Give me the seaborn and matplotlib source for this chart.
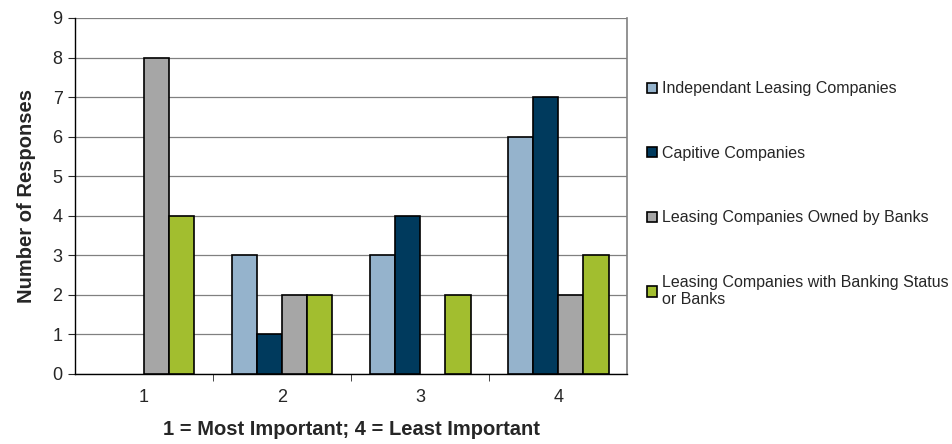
import pandas as pd
import seaborn as sns
import matplotlib
matplotlib.use('Agg')
import matplotlib.pyplot as plt

sns.set_style("white")
plt.rcParams['font.family'] = ['Liberation Sans', 'DejaVu Sans']

categories = ["1", "2", "3", "4"]
series = ["Independant Leasing Companies",
          "Capitive Companies",
          "Leasing Companies Owned by Banks",
          "Leasing Companies with Banking Status\nor Banks"]
independant = [0, 3, 3, 6]
captive = [0, 1, 4, 7]
owned_by_banks = [8, 2, 0, 2]
banking_status = [4, 2, 2, 3]
colors = ["#95B3CC", "#003A5D", "#A6A6A6", "#A2BE2F"]

rows = []
for name, vals in zip(series, [independant, captive, owned_by_banks, banking_status]):
    for c, v in zip(categories, vals):
        rows.append({"rank": c, "company": name, "responses": v})
df = pd.DataFrame(rows)

fig = plt.figure(figsize=(9.52, 4.44), dpi=100)
ax = fig.add_axes([0.0788, 0.1577, 0.58, 0.8018])

sns.barplot(data=df, x="rank", y="responses", hue="company", palette=colors,
            width=0.73, edgecolor="black", linewidth=1.2, saturation=1,
            errorbar=None, ax=ax, zorder=3)

# empty bars should not leave an outline on the baseline
for cont in ax.containers:
    for p in cont:
        if p.get_height() == 0:
            p.set_linewidth(0)

ax.set_ylim(0, 9)
ax.set_xlim(-0.5, 3.5)
ax.set_yticks(range(10))
ax.yaxis.grid(True, color="#808080", linewidth=0.9, zorder=0)
ax.set_axisbelow(True)
for s in ["left", "bottom"]:
    ax.spines[s].set_color("black")
    ax.spines[s].set_linewidth(1)
ax.spines["top"].set_visible(False)
ax.spines["right"].set_color("#808080")
ax.spines["right"].set_linewidth(1.2)

ax.tick_params(axis="y", length=5, direction="out", left=True, labelsize=13, pad=4)
ax.set_xticks([0.5, 1.5, 2.5], minor=True)
ax.tick_params(axis="x", which="major", length=0, labelsize=13, pad=11)
ax.tick_params(axis="x", which="minor", length=5, direction="out", bottom=True)

ax.set_ylabel("Number of Responses", fontsize=14.5, fontweight="bold", labelpad=12)
ax.set_xlabel("1 = Most Important; 4 = Least Important", fontsize=14.5,
              fontweight="bold", labelpad=10)

handles, labels = ax.get_legend_handles_labels()
for h in handles:
    h.set_edgecolor("black")
    h.set_linewidth(1.2)
ax.legend(handles, labels, loc="upper left", bbox_to_anchor=(1.025, 0.84),
          frameon=False, fontsize=11.5, handlelength=0.6, handleheight=0.6,
          handletextpad=0.3, labelspacing=3.1, borderaxespad=0)

fig.savefig("out.png", dpi=100)
